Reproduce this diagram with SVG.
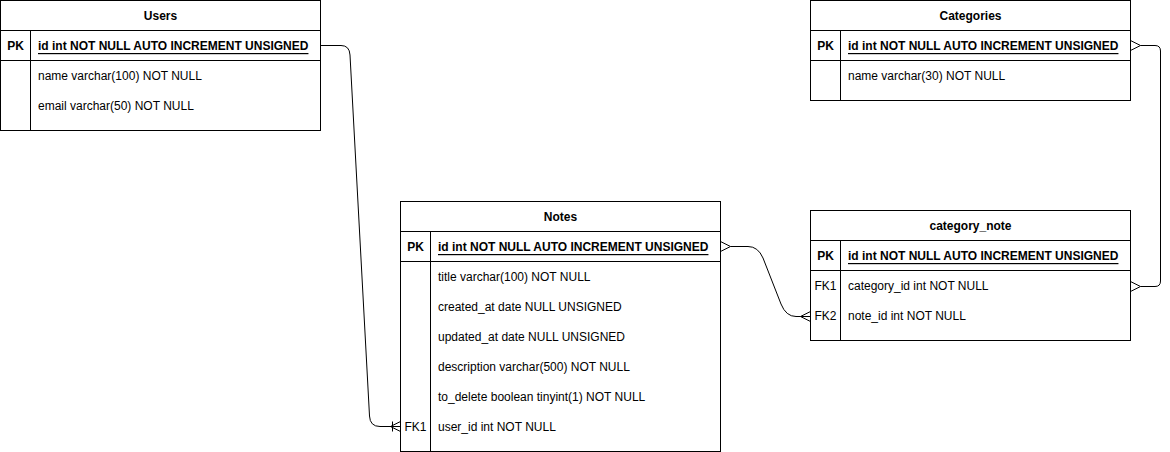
<svg xmlns="http://www.w3.org/2000/svg" width="1170" height="452" viewBox="0 0 1170 452">
<style>
  .box{fill:#fff;stroke:#000;stroke-width:1}
  .ln{stroke:#000;stroke-width:1;fill:none}
  text{font-family:"Liberation Sans",Arial,Helvetica,sans-serif;font-size:12px;fill:#000;dominant-baseline:central}
  .t{font-weight:bold;text-anchor:middle}
  .k{text-anchor:middle}
  .kb{text-anchor:middle;font-weight:bold}
  .pk{font-weight:bold;text-decoration:underline}
  .c{stroke:#000;stroke-width:1;fill:none}
</style>
<rect width="1170" height="452" fill="#fff"/>
<g id="users">
  <rect class="box" x="0.5" y="0.5" width="320" height="130"/>
  <line class="ln" x1="0.5" y1="30.5" x2="320.5" y2="30.5"/>
  <line class="ln" x1="0.5" y1="60.5" x2="320.5" y2="60.5"/>
  <line class="ln" x1="30.5" y1="30.5" x2="30.5" y2="130.5"/>
  <text class="t" x="160.5" y="16">Users</text>
  <text class="kb" x="15.5" y="46">PK</text>
  <text class="pk" x="38" y="46">id int NOT NULL AUTO INCREMENT UNSIGNED</text>
  <text x="38" y="76">name varchar(100) NOT NULL</text>
  <text x="38" y="106">email varchar(50) NOT NULL</text>
</g>
<g id="categories">
  <rect class="box" x="810.5" y="0.5" width="320" height="100"/>
  <line class="ln" x1="810.5" y1="30.5" x2="1130.5" y2="30.5"/>
  <line class="ln" x1="810.5" y1="60.5" x2="1130.5" y2="60.5"/>
  <line class="ln" x1="840.5" y1="30.5" x2="840.5" y2="100.5"/>
  <text class="t" x="970.5" y="16">Categories</text>
  <text class="kb" x="825.5" y="46">PK</text>
  <text class="pk" x="848" y="46">id int NOT NULL AUTO INCREMENT UNSIGNED</text>
  <text x="848" y="76">name varchar(30) NOT NULL</text>
</g>
<g id="notes">
  <rect class="box" x="400.5" y="201.5" width="320" height="250"/>
  <line class="ln" x1="400.5" y1="231.5" x2="720.5" y2="231.5"/>
  <line class="ln" x1="400.5" y1="261.5" x2="720.5" y2="261.5"/>
  <line class="ln" x1="430.5" y1="231.5" x2="430.5" y2="451.5"/>
  <text class="t" x="560.5" y="217">Notes</text>
  <text class="kb" x="415.5" y="247">PK</text>
  <text class="pk" x="438" y="247">id int NOT NULL AUTO INCREMENT UNSIGNED</text>
  <text x="438" y="277">title varchar(100) NOT NULL</text>
  <text x="438" y="307">created_at date NULL UNSIGNED</text>
  <text x="438" y="337">updated_at date NULL UNSIGNED</text>
  <text x="438" y="367">description varchar(500) NOT NULL</text>
  <text x="438" y="397">to_delete boolean tinyint(1) NOT NULL</text>
  <text class="k" x="415.5" y="427">FK1</text>
  <text x="438" y="427">user_id int NOT NULL</text>
</g>
<g id="category_note">
  <rect class="box" x="810.5" y="210.5" width="320" height="130"/>
  <line class="ln" x1="810.5" y1="240.5" x2="1130.5" y2="240.5"/>
  <line class="ln" x1="810.5" y1="270.5" x2="1130.5" y2="270.5"/>
  <line class="ln" x1="840.5" y1="240.5" x2="840.5" y2="340.5"/>
  <text class="t" x="970.5" y="226">category_note</text>
  <text class="kb" x="825.5" y="256">PK</text>
  <text class="pk" x="848" y="256">id int NOT NULL AUTO INCREMENT UNSIGNED</text>
  <text class="k" x="825.5" y="286">FK1</text>
  <text x="848" y="286">category_id int NOT NULL</text>
  <text class="k" x="825.5" y="316">FK2</text>
  <text x="848" y="316">note_id int NOT NULL</text>
</g>
<g id="connectors">
  <!-- Users.id -> Notes.user_id -->
  <path class="c" d="M320.5,45.5 H341 Q349.5,45.5 350,55 L369.5,416 Q370,426.5 380,426.5 H400.5"/>
  <path class="c" d="M390.5,426.5 L400.5,421.5 M390.5,426.5 L400.5,431.5 M392.5,421.5 V431.5"/>
  <!-- Notes.id -> category_note.note_id -->
  <path class="c" d="M730.5,246.5 H748 Q758,246.5 763,258 L781,304 Q786,316.5 796,316.5 H800.5"/>
  <path class="c" d="M730.5,246.5 L720.5,241.5 M730.5,246.5 L720.5,251.5"/>
  <path class="c" d="M800.5,316.5 L810.5,311.5 M800.5,316.5 L810.5,321.5 M800.5,316.5 H810.5"/>
  <!-- Categories.id -> category_note.category_id -->
  <path class="c" d="M1140.5,45.5 H1155 Q1160.5,45.5 1160.5,51 V281 Q1160.5,286.5 1155,286.5 H1140.5"/>
  <path class="c" d="M1140.5,45.5 L1130.5,40.5 M1140.5,45.5 L1130.5,50.5"/>
  <path class="c" d="M1140.5,286.5 L1130.5,281.5 M1140.5,286.5 L1130.5,291.5"/>
</g>
</svg>
